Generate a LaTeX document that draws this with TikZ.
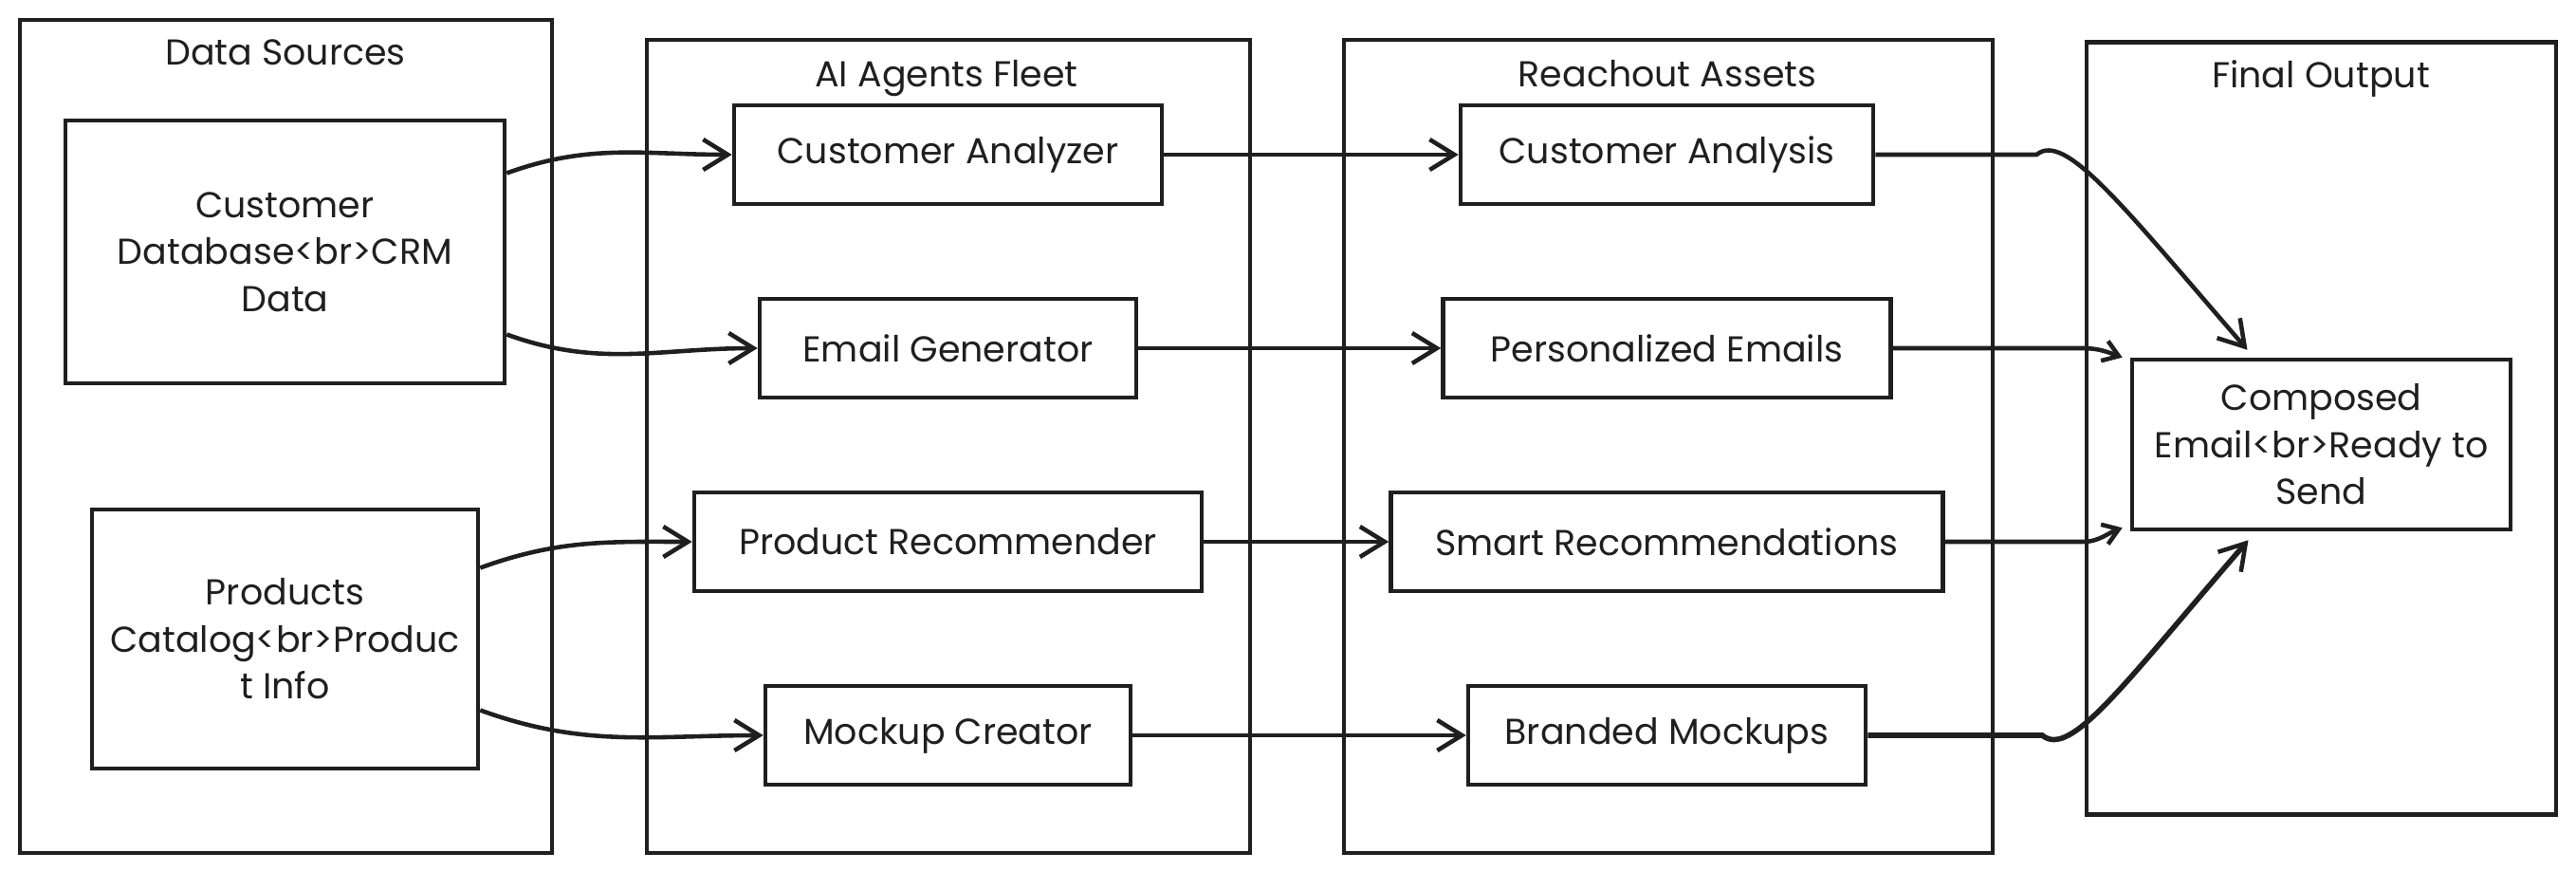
\documentclass[tikz,border=0pt]{standalone}
\usepackage{fontspec}
\setmainfont{Poppins}
\usetikzlibrary{positioning, arrows.meta}

\begin{document}
\begin{tikzpicture}[
        node distance=2.04cm, % Spacing between rows
        color=black!88,
        font=\fontsize{10.8}{14.1}\selectfont,
        arrow/.style={line width=1.3pt, -{Straight Barb[length=0.26cm, width=0.32cm, line width=1.3pt]}}, % Arrow style
        smallarrow/.style={line width=1.3pt, -{Straight Barb[length=0.16cm, width=0.22cm, line width=1.3pt]}},
        group/.style={rectangle, draw, line width=1.3pt, inner sep=0pt}, % Container style
        grouptitle/.style={anchor=base, inner sep=0pt},
        box/.style={rectangle, draw, fill=white, line width=1.3pt, minimum height=1.04cm, align=center, inner sep=0pt} % Node style
    ]
    \useasboundingbox (0,0) rectangle (27.16,-9.18);

        % Containers
        \node (sources) [group, minimum width=5.61cm, minimum height=8.78cm] at (3.015,-4.60) {};
        \node (agents) [group, minimum width=6.36cm, minimum height=8.57cm] at (10.00,-4.705) {};
        \node (assets) [group, minimum width=6.84cm, minimum height=8.57cm] at (17.59,-4.705) {};
        \node (output) [group, minimum width=4.95cm, minimum height=8.14cm] at (24.475,-4.515) {};

        \node (sourcestitle) [grouptitle] at (3.01,-0.69) {Data Sources};
        \node (agentstitle) [grouptitle] at (9.98,-0.91) {AI Agents Fleet};
        \node (assetstitle) [grouptitle] at (17.58,-0.91) {Reachout Assets};
        \node (outputtitle) [grouptitle] at (24.47,-0.92) {Final Output};

        % Data sources
        \node (db) [box, minimum width=4.63cm, minimum height=2.77cm] at (3.005,-2.655) {Customer\\Database<br>CRM\\Data};
        \node (catalog) [box, minimum width=4.07cm, minimum height=2.73cm] at (3.005,-6.735) {Products\\Catalog<br>Produc\\t Info};

        % Agents column (downward)
        \node (analyzer) [box, minimum width=4.51cm] at (9.995,-1.63) {Customer Analyzer};
        \node (generator) [box, minimum width=3.97cm, below of=analyzer] {Email Generator};
        \node (recommender) [box, minimum width=5.35cm, below of=generator] {Product Recommender};
        \node (mockupcreator) [box, minimum width=3.85cm, below of=recommender] {Mockup Creator};

        % Assets column (downward)
        \node (analysis) [box, minimum width=4.35cm] at (17.575,-1.63) {Customer Analysis};
        \node (emails) [box, minimum width=4.72cm, below of=analysis] {Personalized Emails};
        \node (smartrec) [box, minimum width=5.82cm, below of=emails] {Smart Recommendations};
        \node (mockups) [box, minimum width=4.19cm, below of=smartrec] {Branded Mockups};

        % Final output
        \node (composed) [box, minimum width=3.99cm, minimum height=1.79cm] at (24.475,-4.685) {Composed\\Email<br>Ready to\\Send};

        % Sources to agents
        \draw [arrow] ([yshift=0.83cm]db.east) to[out=20, in=180] (analyzer.west);
        \draw [arrow] ([yshift=-0.87cm]db.east) to[out=-20, in=180] (generator.west);
        \draw [arrow] ([yshift=0.75cm]catalog.east) to[out=20, in=180] (recommender.west);
        \draw [arrow] ([yshift=-0.75cm]catalog.east) to[out=-20, in=180] (mockupcreator.west);

        % Agents to assets
        \draw [arrow] (analyzer) -- (analysis);
        \draw [arrow] (generator) -- (emails);
        \draw [arrow] (recommender) -- (smartrec);
        \draw [arrow] (mockupcreator) -- (mockups);

        % Assets to final output
        \draw [arrow] (analysis.east) -- ++(1.7,0) .. controls +(0.3,0.25) and +(-1.3,1.5) .. ([xshift=-0.78cm, yshift=0.08cm]composed.north);
        \draw [smallarrow] (emails.east) -- ++(2.0,0) to[out=0, in=160] ([xshift=-0.08cm]composed.north west);
        \draw [smallarrow] (smartrec.east) -- ++(1.45,0) to[out=0, in=200] ([xshift=-0.08cm, yshift=0.04cm]composed.south west);
        \draw [arrow, line width=1.6pt] (mockups.east) -- ++(1.84,0) .. controls +(0.3,-0.25) and +(-1.3,-1.5) .. ([xshift=-0.77cm, yshift=-0.09cm]composed.south);

    \end{tikzpicture}
\end{document}
